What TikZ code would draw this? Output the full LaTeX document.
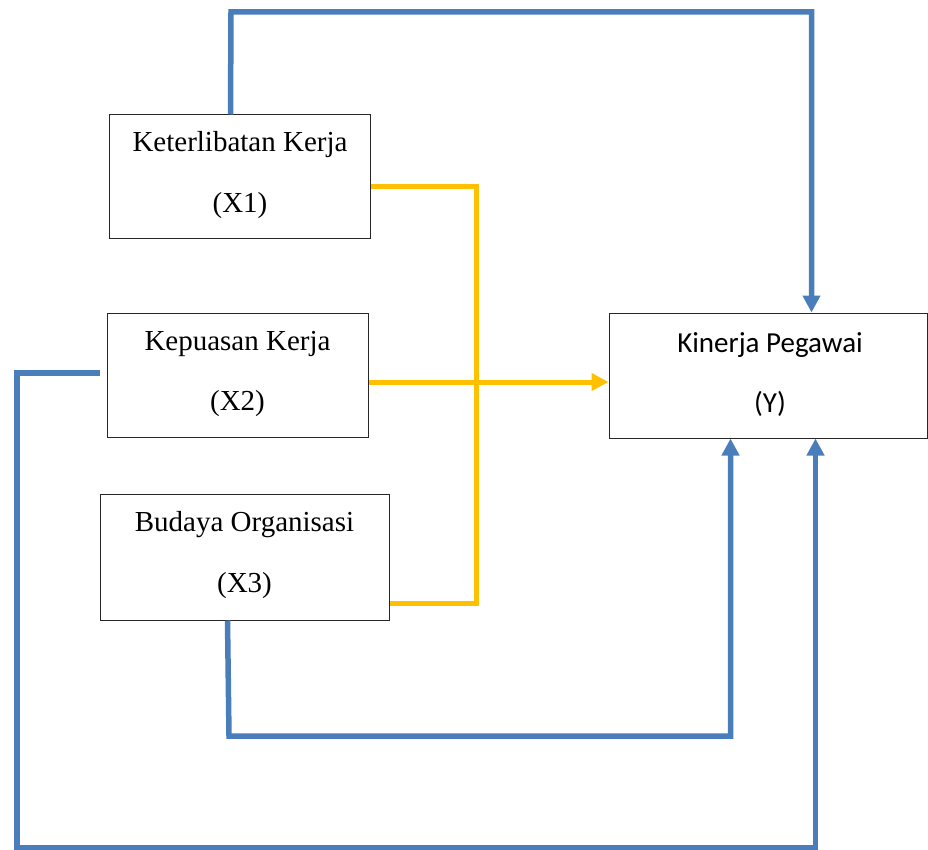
\documentclass[tikz,border=0pt]{standalone}
\usepackage{fontspec}
\setmainfont{Liberation Serif}
\newfontfamily\calib{Carlito}
\usetikzlibrary{arrows.meta}
\definecolor{lnblue}{HTML}{4A7EBB}
\definecolor{lnyellow}{HTML}{FFC000}
\begin{document}
\begin{tikzpicture}[x=1pt,y=1pt,
  box/.style={draw=black!85,line width=1pt,inner sep=0pt,fill=white},
  lbl/.style={anchor=base,inner sep=0pt,font=\fontsize{29}{34}\selectfont},
  lbls/.style={anchor=base,inner sep=0pt,font=\calib\fontsize{29}{34}\selectfont},
  bl/.style={draw=lnblue,line width=5.5pt},
  yl/.style={draw=lnyellow,line width=5pt},
  tip/.style={-{Triangle[width=17pt,length=17pt]}}]
\useasboundingbox (0,0) rectangle (928,-850);
% boxes
\node[box,minimum width=261pt,minimum height=124pt] (x1) at (239.5,-177) {};
\node[box,minimum width=261pt,minimum height=124pt] (x2) at (237.5,-375) {};
\node[box,minimum width=289pt,minimum height=126pt] (x3) at (244.5,-557) {};
\node[box,minimum width=318pt,minimum height=125pt] (y) at (768,-375.5) {};
% texts
\node[lbl] (t1a) at (240,-152) {Keterlibatan Kerja};
\node[lbl] (t1b) at (240,-213) {(X1)};
\node[lbl] (t2a) at (237.5,-350) {Kepuasan Kerja};
\node[lbl] (t2b) at (237.5,-410) {(X2)};
\node[lbl] (t3a) at (244.5,-531) {Budaya Organisasi};
\node[lbl] (t3b) at (244.5,-592) {(X3)};
\node[lbls] (tya) at (770,-352) {Kinerja Pegawai};
\node[lbls] (tyb) at (770,-412) {(Y)};
% corner coordinates
\coordinate (c0) at (231,-12);
\coordinate (c1) at (17,-848);
\coordinate (c2) at (229,-736);
\coordinate (c3) at (476,-603);
% yellow connectors
\draw[yl] ([yshift=-10pt]x1.east) -| (c3) -- ([yshift=-46pt]x3.east);
\draw[yl,tip] ([yshift=-7pt]x2.east) -- ([yshift=-6.5pt]y.west);
% blue connectors
\draw[bl,tip] ([xshift=122pt]x1.north west) -- (c0) -| ([xshift=203pt]y.north west);
\draw[bl,tip] ([xshift=-7pt,yshift=2pt]x2.west) -| (c1) -| ([xshift=207pt]y.south west);
\draw[bl,tip] ([xshift=128pt]x3.south west) -- (c2) -| ([xshift=122pt]y.south west);
\end{tikzpicture}
\end{document}
